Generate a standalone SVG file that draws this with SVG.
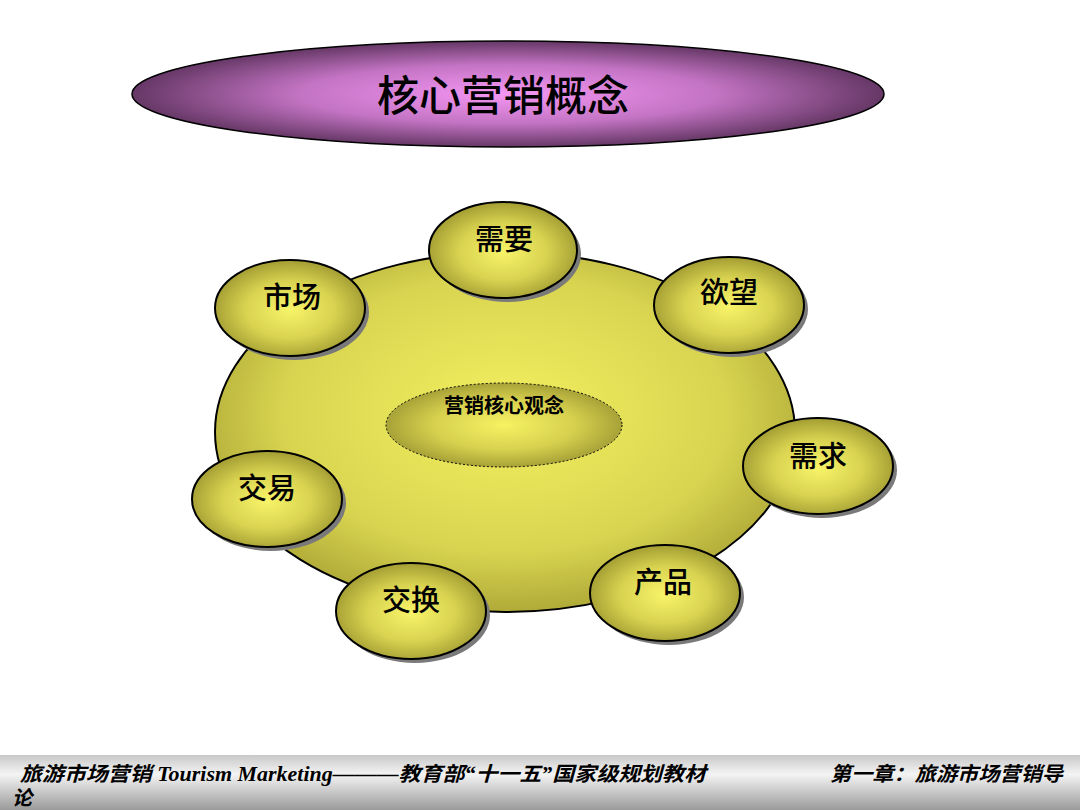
<svg xmlns="http://www.w3.org/2000/svg" width="1080" height="810" viewBox="0 0 1080 810">
<defs>
<radialGradient id="gPurple" cx="50%" cy="50%" r="50%">
<stop offset="0" stop-color="#f496f4"/>
<stop offset="0.55" stop-color="#c474c4"/>
<stop offset="1" stop-color="#663866"/>
</radialGradient>
<radialGradient id="gBig" cx="50%" cy="45%" r="55%">
<stop offset="0" stop-color="#f4f060"/>
<stop offset="0.7" stop-color="#d8d450"/>
<stop offset="1" stop-color="#b0aa38"/>
</radialGradient>
<radialGradient id="gInner" cx="50%" cy="50%" r="50%">
<stop offset="0" stop-color="#f6f262"/>
<stop offset="0.6" stop-color="#d6d04e"/>
<stop offset="1" stop-color="#a8a238"/>
</radialGradient>
<radialGradient id="gSmall" cx="50%" cy="52%" r="50%">
<stop offset="0" stop-color="#f8f468"/>
<stop offset="0.6" stop-color="#d8d250"/>
<stop offset="1" stop-color="#a8a236"/>
</radialGradient>
<linearGradient id="gFoot" x1="0" y1="0" x2="0" y2="1">
<stop offset="0" stop-color="#c8c8c8"/>
<stop offset="0.35" stop-color="#f4f4f4"/>
<stop offset="1" stop-color="#9a9a9a"/>
</linearGradient>
</defs>
<style>
.cn{font-family:"Noto Sans CJK SC","Noto Sans CJK TC",sans-serif;fill:#000;text-anchor:middle}
.lbl{font-size:29px;font-weight:500}
.small{fill:url(#gSmall);stroke:#000;stroke-width:2}
.shadow{fill:#7a7a7a}
.foot{font-family:"Liberation Serif","Noto Sans CJK SC",serif;font-style:italic;font-weight:bold;font-size:20px;fill:#000}
</style>
<rect width="1080" height="810" fill="#fff"/>

<g id="title">
<ellipse cx="508" cy="94" rx="376" ry="53" fill="url(#gPurple)" stroke="#000" stroke-width="1.5"/>
<text x="503" y="111" class="cn" font-size="42" font-weight="500">核心营销概念</text>
</g>

<g id="core">
<ellipse cx="505" cy="432" rx="290" ry="180" fill="url(#gBig)" stroke="#000" stroke-width="2"/>
</g>

<g id="center">
<ellipse cx="504" cy="425" rx="118" ry="42" fill="url(#gInner)" stroke="#000" stroke-width="1" stroke-dasharray="2 2"/>
<text x="504" y="413" class="cn" font-size="20" font-weight="bold">营销核心观念</text>
</g>

<g id="connectors"></g>

<g id="n-xuyao">
<ellipse class="shadow" cx="507" cy="254" rx="74" ry="48"/>
<ellipse class="small" cx="503" cy="250" rx="74" ry="48"/>
<text x="504" y="250" class="cn lbl">需要</text>
</g>
<g id="n-shichang">
<ellipse class="shadow" cx="294" cy="312" rx="75" ry="48"/>
<ellipse class="small" cx="290" cy="308" rx="75" ry="48"/>
<text x="292" y="308" class="cn lbl">市场</text>
</g>
<g id="n-yuwang">
<ellipse class="shadow" cx="733" cy="309" rx="75" ry="48"/>
<ellipse class="small" cx="729" cy="305" rx="75" ry="48"/>
<text x="729" y="303" class="cn lbl">欲望</text>
</g>
<g id="n-xuqiu">
<ellipse class="shadow" cx="822" cy="470" rx="75" ry="48"/>
<ellipse class="small" cx="818" cy="466" rx="75" ry="48"/>
<text x="818" y="467" class="cn lbl">需求</text>
</g>
<g id="n-chanpin">
<ellipse class="shadow" cx="669" cy="597" rx="75" ry="48"/>
<ellipse class="small" cx="665" cy="593" rx="75" ry="48"/>
<text x="663" y="593" class="cn lbl">产品</text>
</g>
<g id="n-jiaohuan">
<ellipse class="shadow" cx="415" cy="615" rx="75" ry="48"/>
<ellipse class="small" cx="411" cy="611" rx="75" ry="48"/>
<text x="411" y="611" class="cn lbl">交换</text>
</g>
<g id="n-jiaoyi">
<ellipse class="shadow" cx="271" cy="503" rx="75" ry="48"/>
<ellipse class="small" cx="267" cy="499" rx="75" ry="48"/>
<text x="267" y="499" class="cn lbl">交易</text>
</g>

<g id="footer">
<rect x="0" y="755" width="1080" height="55" fill="url(#gFoot)"/>
<text x="20" y="781" class="foot" textLength="686" lengthAdjust="spacingAndGlyphs">旅游市场营销 Tourism Marketing———教育部“十一五”国家级规划教材</text>
<text x="830" y="781" class="foot" textLength="233" lengthAdjust="spacingAndGlyphs">第一章：旅游市场营销导</text>
<text x="12" y="805" class="foot">论</text>
</g>
</svg>
